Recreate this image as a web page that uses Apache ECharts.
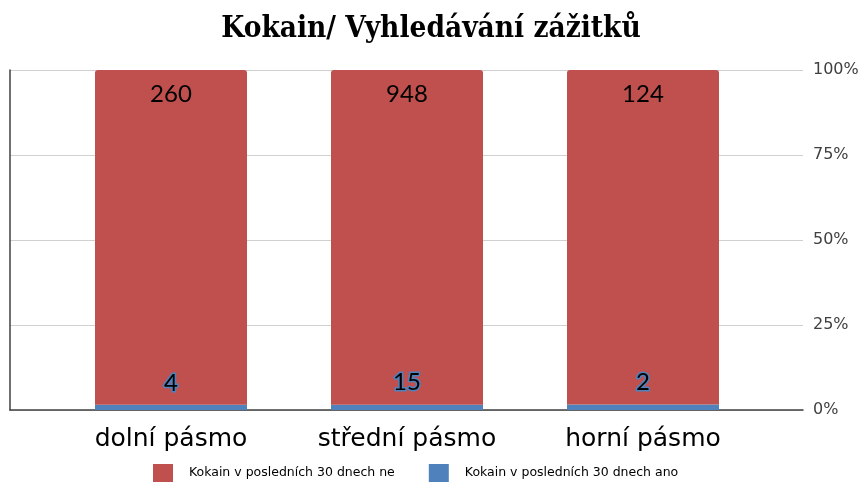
<!DOCTYPE html>
<html><head><meta charset="utf-8">
<script src="https://cdn.jsdelivr.net/npm/echarts@6/dist/echarts.min.js"></script>
<style>html,body{margin:0;padding:0;background:#fff}#c{width:862px;height:482px}</style>
</head><body><div id="c"></div>
<script>
const title = 'Kokain/ Vyhledávání zážitků';
const categories = ['dolní pásmo', 'střední pásmo', 'horní pásmo'];
const seriesNames = ['Kokain v posledních 30 dnech ne', 'Kokain v posledních 30 dnech ano'];
const valuesNe = [260, 948, 124];
const valuesAno = [4, 15, 2];
const yTicks = ['0%', '25%', '50%', '75%', '100%'];

const totals = valuesNe.map((v, i) => v + valuesAno[i]);
const pctNe = valuesNe.map((v, i) => v / totals[i] * 100);
const pctAno = valuesAno.map((v, i) => v / totals[i] * 100);

const chart = echarts.init(document.getElementById('c'));
const font = '"DejaVu Sans", sans-serif';
const numFont = 'Lato, sans-serif';
chart.setOption({
  animation: false,
  title: {
    text: title, left: 'center', top: 9,
    textStyle: {fontFamily: '"DejaVu Serif Condensed", "DejaVu Serif", serif', fontWeight: 'bold', fontSize: 29.5, color: '#000'}
  },
  legend: {
    top: 459, left: 148, itemWidth: 20, itemHeight: 18, itemGap: 34,
    icon: 'rect',
    textStyle: {fontFamily: font, fontSize: 12.5, color: '#000', padding: [0, 0, 0, 11]},
    data: seriesNames
  },
  grid: [
    {left: 10, right: 59, top: 70, bottom: 72},
    {left: 53, right: 101, top: 70, bottom: 72}
  ],
  xAxis: [
    {gridIndex: 0, type: 'category', data: ['a'], axisLine: {show: true, lineStyle: {color: '#404040', width: 1.5}}, axisTick: {show: false}, axisLabel: {show: false}},
    {gridIndex: 1, type: 'category', data: categories, axisLine: {show: false}, axisTick: {show: false},
     axisLabel: {fontFamily: font, fontSize: 25, color: '#000', margin: 17}}
  ],
  yAxis: [
    {gridIndex: 0, type: 'value', min: 0, max: 100, interval: 25, position: 'right',
     axisLine: {show: false}, axisTick: {show: false},
     axisLabel: {fontFamily: font, fontSize: 16, color: '#404040', margin: 10, formatter: v => yTicks[v / 25]},
     splitLine: {lineStyle: {color: '#d0d0d0', width: 1}}},
    {gridIndex: 0, type: 'value', min: 0, max: 100, position: 'left',
     axisLine: {show: true, lineStyle: {color: '#404040', width: 1.5}}, axisTick: {show: false}, axisLabel: {show: false}, splitLine: {show: false}},
    {gridIndex: 1, type: 'value', min: 0, max: 100, show: false}
  ],
  series: [
    {name: seriesNames[1], type: 'bar', stack: 's', xAxisIndex: 1, yAxisIndex: 2, barWidth: 152,
     data: pctAno, itemStyle: {color: '#4F81BD'},
     label: {show: true, position: 'top', distance: 10, fontFamily: numFont, fontSize: 24, color: '#000',
       textBorderColor: '#4F81BD', textBorderWidth: 3,
       formatter: p => valuesAno[p.dataIndex]}},
    {name: seriesNames[0], type: 'bar', stack: 's', xAxisIndex: 1, yAxisIndex: 2, barWidth: 152,
     data: pctNe, itemStyle: {color: '#C0504D', borderRadius: [3, 3, 0, 0]},
     label: {show: true, position: 'insideTop', distance: 12, fontFamily: numFont, fontSize: 24, color: '#000',
       formatter: p => valuesNe[p.dataIndex]}}
  ]
});
</script></body></html>
